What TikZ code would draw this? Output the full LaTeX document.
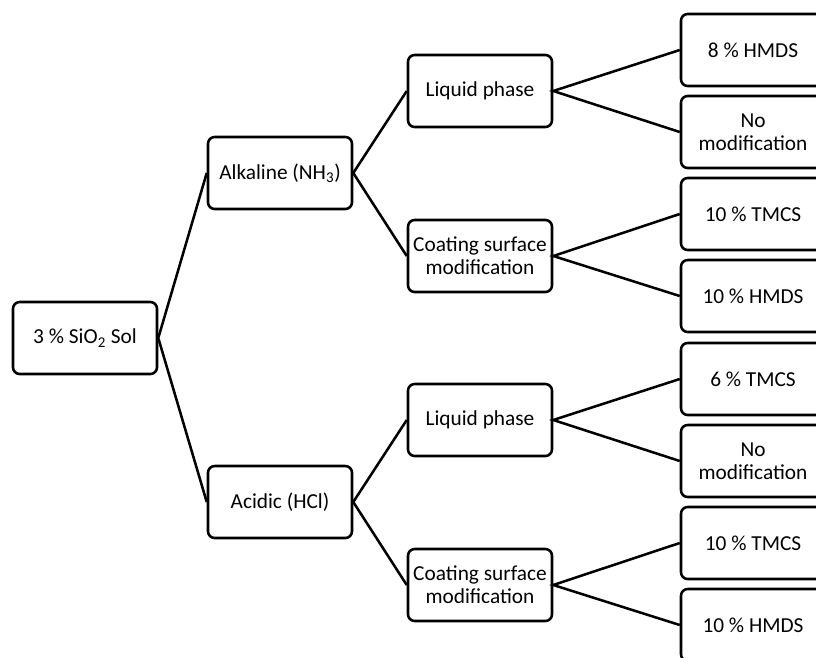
\documentclass[tikz,border=0pt]{standalone}
\usepackage{fontspec}
\setmainfont{Carlito}
\tikzset{
  box/.style={draw, line width=1.9pt, rounded corners=5pt, minimum width=108pt,
    minimum height=54pt, align=center, inner sep=1pt,
    font=\fontsize{16pt}{17pt}\selectfont},
  link/.style={line width=1.9pt}
}
\begin{document}
\begin{tikzpicture}[x=0.75pt,y=-0.75pt]
\clip (0,0) rectangle (816,657);

\node[box] (sol) at (85,338) {3 \% SiO\textsubscript{2} Sol};

\node[box] (alk) at (280,173) {Alkaline (NH\textsubscript{3})};
\node[box] (acid) at (280,502) {Acidic (HCl)};

\node[box] (liqA) at (480,91) {Liquid phase};
\node[box] (coatA) at (480,256) {Coating surface\\modification};
\node[box] (liqB) at (480,420) {Liquid phase};
\node[box] (coatB) at (480,585) {Coating surface\\modification};

\node[box] (hmdsA) at (753,50) {8 \% HMDS};
\node[box] (noA) at (753,132) {No\\modification};
\node[box] (tmcsA) at (753,214) {10 \% TMCS};
\node[box] (hmdsB) at (753,296) {10 \% HMDS};
\node[box] (tmcsB) at (753,379) {6 \% TMCS};
\node[box] (noB) at (753,461) {No\\modification};
\node[box] (tmcsC) at (753,543) {10 \% TMCS};
\node[box] (hmdsC) at (753,625) {10 \% HMDS};

\draw[link] (alk.west) -- (sol.east) -- (acid.west);

\draw[link] (liqA.west) -- (alk.east) -- (coatA.west);
\draw[link] (liqB.west) -- (acid.east) -- (coatB.west);

\draw[link] (hmdsA.west) -- (liqA.east) -- (noA.west);
\draw[link] (tmcsA.west) -- (coatA.east) -- (hmdsB.west);
\draw[link] (tmcsB.west) -- (liqB.east) -- (noB.west);
\draw[link] (tmcsC.west) -- (coatB.east) -- (hmdsC.west);
\end{tikzpicture}
\end{document}
